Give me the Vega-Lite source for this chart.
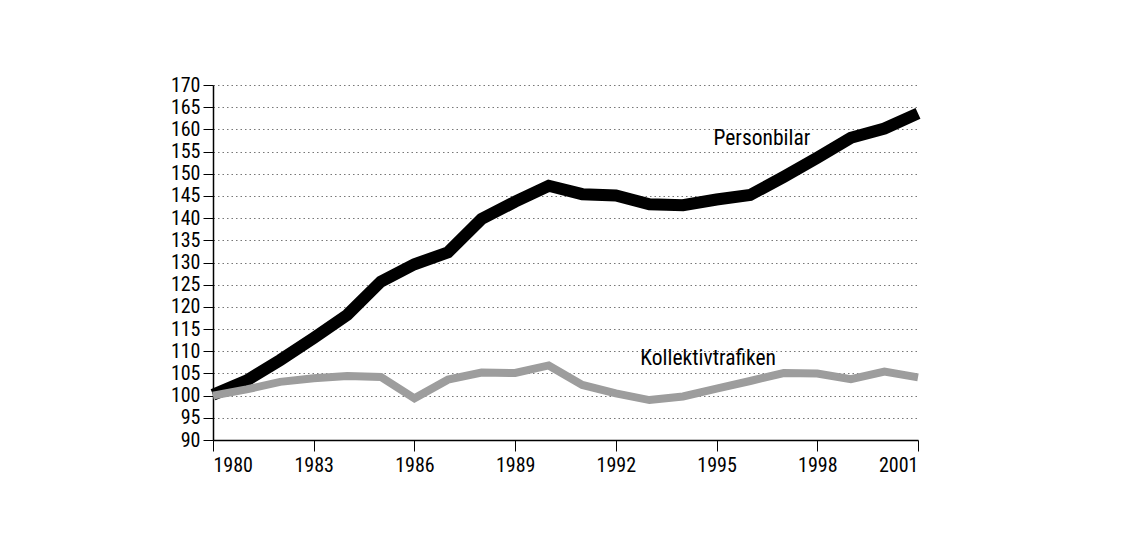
{
  "$schema": "https://vega.github.io/schema/vega-lite/v6.json",
  "width": 705,
  "height": 355,
  "autosize": {"type": "none"},
  "padding": {"left": 213, "top": 85, "right": 222, "bottom": 94},
  "background": "white",
  "config": {
    "view": {"stroke": null},
    "font": "Roboto Condensed"
  },
  "datasets": {
    "series": [
      {"year": 1980, "serie": "Personbilar", "value": 100.2},
      {"year": 1981, "serie": "Personbilar", "value": 103.4},
      {"year": 1982, "serie": "Personbilar", "value": 108.0},
      {"year": 1983, "serie": "Personbilar", "value": 113.0},
      {"year": 1984, "serie": "Personbilar", "value": 118.2},
      {"year": 1985, "serie": "Personbilar", "value": 125.7},
      {"year": 1986, "serie": "Personbilar", "value": 129.6},
      {"year": 1987, "serie": "Personbilar", "value": 132.3},
      {"year": 1988, "serie": "Personbilar", "value": 139.8},
      {"year": 1989, "serie": "Personbilar", "value": 143.7},
      {"year": 1990, "serie": "Personbilar", "value": 147.3},
      {"year": 1991, "serie": "Personbilar", "value": 145.4},
      {"year": 1992, "serie": "Personbilar", "value": 145.1},
      {"year": 1993, "serie": "Personbilar", "value": 143.1},
      {"year": 1994, "serie": "Personbilar", "value": 142.9},
      {"year": 1995, "serie": "Personbilar", "value": 144.2},
      {"year": 1996, "serie": "Personbilar", "value": 145.2},
      {"year": 1997, "serie": "Personbilar", "value": 149.3},
      {"year": 1998, "serie": "Personbilar", "value": 153.6},
      {"year": 1999, "serie": "Personbilar", "value": 158.1},
      {"year": 2000, "serie": "Personbilar", "value": 160.2},
      {"year": 2001, "serie": "Personbilar", "value": 163.6},
      {"year": 1980, "serie": "Kollektivtrafiken", "value": 100.0},
      {"year": 1981, "serie": "Kollektivtrafiken", "value": 101.4},
      {"year": 1982, "serie": "Kollektivtrafiken", "value": 103.1},
      {"year": 1983, "serie": "Kollektivtrafiken", "value": 103.9},
      {"year": 1984, "serie": "Kollektivtrafiken", "value": 104.4},
      {"year": 1985, "serie": "Kollektivtrafiken", "value": 104.2},
      {"year": 1986, "serie": "Kollektivtrafiken", "value": 99.4},
      {"year": 1987, "serie": "Kollektivtrafiken", "value": 103.6},
      {"year": 1988, "serie": "Kollektivtrafiken", "value": 105.2},
      {"year": 1989, "serie": "Kollektivtrafiken", "value": 105.1},
      {"year": 1990, "serie": "Kollektivtrafiken", "value": 106.8},
      {"year": 1991, "serie": "Kollektivtrafiken", "value": 102.4},
      {"year": 1992, "serie": "Kollektivtrafiken", "value": 100.5},
      {"year": 1993, "serie": "Kollektivtrafiken", "value": 99.0},
      {"year": 1994, "serie": "Kollektivtrafiken", "value": 99.8},
      {"year": 1995, "serie": "Kollektivtrafiken", "value": 101.6},
      {"year": 1996, "serie": "Kollektivtrafiken", "value": 103.3},
      {"year": 1997, "serie": "Kollektivtrafiken", "value": 105.1},
      {"year": 1998, "serie": "Kollektivtrafiken", "value": 105.0},
      {"year": 1999, "serie": "Kollektivtrafiken", "value": 103.7},
      {"year": 2000, "serie": "Kollektivtrafiken", "value": 105.4},
      {"year": 2001, "serie": "Kollektivtrafiken", "value": 104.1}
    ],
    "labels": [
      {"label": "Personbilar", "year": 1996.35, "value": 157.8},
      {"label": "Kollektivtrafiken", "year": 1994.75, "value": 108.2}
    ]
  },
  "layer": [
    {
      "data": {"name": "series"},
      "mark": {"type": "line", "strokeJoin": "miter", "strokeCap": "butt"},
      "encoding": {
        "x": {
          "field": "year", "type": "quantitative",
          "scale": {"domain": [1980, 2001], "nice": false, "zero": false},
          "axis": {
            "title": null,
            "values": [1980, 1983, 1986, 1989, 1992, 1995, 1998, 2001],
            "tickCount": 30,
            "format": "d",
            "grid": false,
            "domainColor": "#000000",
            "domainWidth": 1.5,
            "tickColor": "#000000",
            "tickSize": 11,
            "tickWidth": 1,
            "labelFontSize": 20,
            "labelColor": "#000000",
            "labelPadding": 4,
            "labelOverlap": false,
            "labelFont": "Roboto Condensed"
          }
        },
        "y": {
          "field": "value", "type": "quantitative",
          "scale": {"domain": [90, 170], "nice": false, "zero": false},
          "axis": {
            "title": null,
            "values": [90, 95, 100, 105, 110, 115, 120, 125, 130, 135, 140, 145, 150, 155, 160, 165, 170],
            "tickCount": 40,
            "grid": true,
            "gridColor": "#777777",
            "gridDash": [1.5, 3],
            "gridWidth": 1,
            "domainColor": "#000000",
            "domainWidth": 1.5,
            "tickColor": "#000000",
            "tickSize": 10,
            "tickWidth": 1,
            "labelFontSize": 20,
            "labelColor": "#000000",
            "labelPadding": 3,
            "labelOverlap": false,
            "labelFont": "Roboto Condensed"
          }
        },
        "detail": {"field": "serie"},
        "color": {
          "field": "serie", "type": "nominal",
          "scale": {"domain": ["Personbilar", "Kollektivtrafiken"], "range": ["#000000", "#9d9d9d"]},
          "legend": null
        },
        "strokeWidth": {
          "field": "serie", "type": "nominal",
          "scale": {"domain": ["Personbilar", "Kollektivtrafiken"], "range": [12, 8]},
          "legend": null
        },
        "order": {"field": "year"}
      }
    },
    {
      "data": {"name": "labels"},
      "mark": {"type": "text", "fontSize": 21.5, "color": "#000000", "align": "center", "baseline": "middle", "font": "Roboto Condensed"},
      "encoding": {
        "x": {"field": "year", "type": "quantitative"},
        "y": {"field": "value", "type": "quantitative"},
        "text": {"field": "label"}
      }
    }
  ]
}
